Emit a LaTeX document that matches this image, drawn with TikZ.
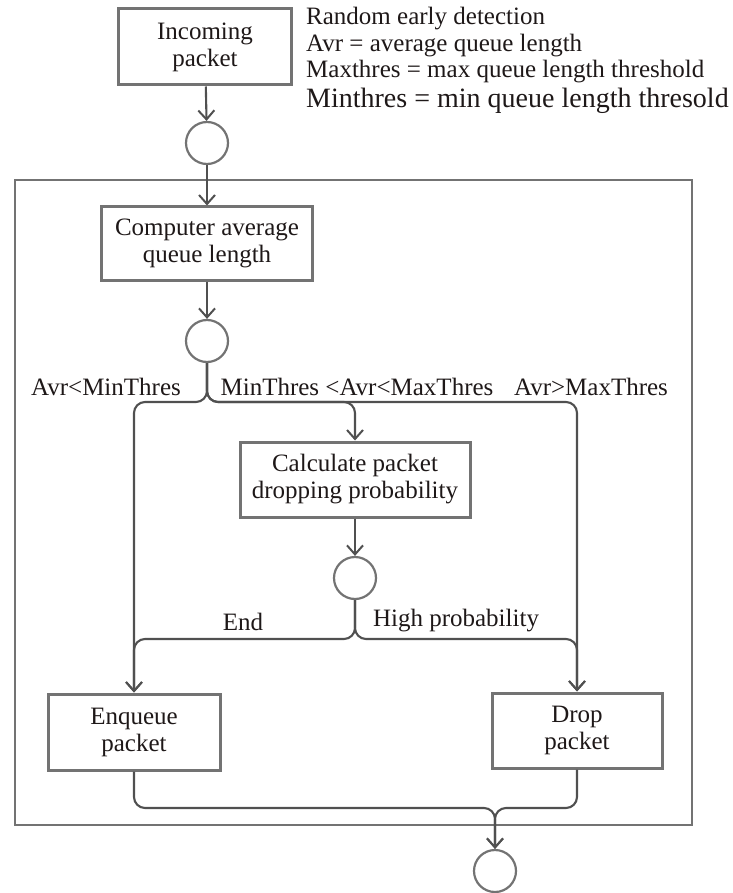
\documentclass[tikz,border=0pt]{standalone}
\usepackage{fontspec}
\setmainfont{Liberation Serif}
\usetikzlibrary{arrows.meta,positioning,calc}
\definecolor{linecolor}{RGB}{80, 80, 80}
\definecolor{boxcolor}{RGB}{115, 115, 115}
\definecolor{textcolor}{RGB}{30, 24, 24}

\begin{document}
\begin{tikzpicture}[
        x=1pt, y=-1pt,
        font=\fontsize{25}{27}\selectfont, text=textcolor,
        stepbox/.style={rectangle, draw=boxcolor, line width=3pt, align=center, inner sep=0pt},
        junction/.style={circle, draw=boxcolor, line width=2.2pt, minimum size=42pt, inner sep=0pt},
        flow/.style={draw=linecolor, line width=2.1pt, rounded corners=11pt},
        arrow/.style={flow, -{Straight Barb[length=9pt,width=16pt,line width=2pt]}},
        cond/.style={font=\fontsize{25}{27}\selectfont}
    ]
        \useasboundingbox (0,0) rectangle (732,893);

        % Incoming packet
        \node[stepbox, minimum width=173pt, minimum height=76pt] (incoming) at (205,47) {Incoming\\packet};
        \node[junction] (c_in) at (207,143) {};
        \draw[arrow] (incoming) -- (c_in);

        % Legend
        \node[anchor=north west, align=left, inner sep=0pt, font=\fontsize{25}{26.5}\selectfont] (legend) at (306,7)
            {Random early detection\\Avr = average queue length\\Maxthres = max queue length threshold\\[3pt]
             {\fontsize{28}{30}\selectfont Minthres = min queue length thresold}};

        % RED block
        \draw[draw=boxcolor, line width=2.8pt] (15,180) rectangle (692,825);

        % Average queue length
        \node[stepbox, minimum width=211pt, minimum height=73pt] (avg) at (207,243.5) {Computer average\\queue length};
        \draw[arrow] (c_in) -- (avg);
        \node[junction] (c_avg) at (207,341) {};
        \draw[arrow] (avg) -- (c_avg);

        % Drop probability
        \node[stepbox, minimum width=230pt, minimum height=75pt] (prob) at (355,479.5) {Calculate packet\\dropping probability};
        \node[junction] (c_prob) at (355,578) {};
        \draw[arrow] (prob) -- (c_prob);

        % Enqueue and drop
        \node[stepbox, minimum width=172pt, minimum height=76pt] (enqueue) at (134,732) {Enqueue\\packet};
        \node[stepbox, minimum width=170pt, minimum height=75pt] (drop) at (577,730.5) {Drop\\packet};
        \node[junction] (c_out) at (495,871) {};

        % Branch on average queue length
        \coordinate (fork_avg) at (207,402);
        \draw[arrow] (c_avg) -- (fork_avg) -| (enqueue.north);
        \draw[arrow] (c_avg) -- (fork_avg) -| (prob.north);
        \draw[arrow] (c_avg) -- (fork_avg) -| (drop.north);
        \node[cond] (lbl_min) at (106,387) {Avr<MinThres};
        \node[cond] (lbl_mid) at (357,387) {MinThres <Avr<MaxThres};
        \node[cond] (lbl_max) at (591,387) {Avr>MaxThres};

        % Branch on probability
        \coordinate (fork_prob) at (355,639);
        \draw[arrow] (c_prob) -- (fork_prob) -| (enqueue.north);
        \draw[arrow] (c_prob) -- (fork_prob) -| (drop.north);
        \node[cond] (lbl_end) at (243,622) {End};
        \node[cond] (lbl_high) at (456,621) {High probability};

        % Merge
        \coordinate (merge) at (495,808);
        \draw[arrow] (enqueue.south) |- (merge) -- (c_out);
        \draw[arrow] (drop.south) |- (merge) -- (c_out);

    \end{tikzpicture}
\end{document}
